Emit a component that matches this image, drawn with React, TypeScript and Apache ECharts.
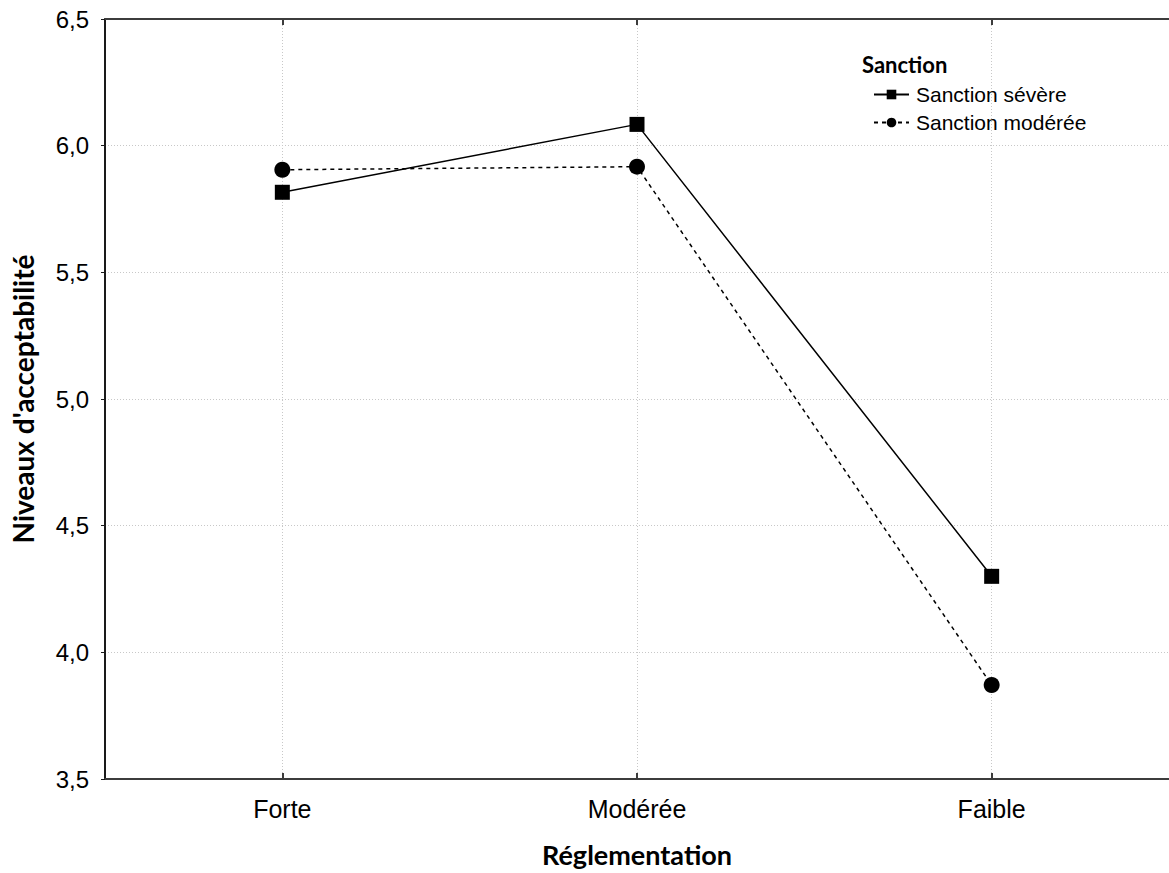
import React, { useEffect, useRef } from "react";
import * as echarts from "echarts";

const categories = ["Forte", "Modérée", "Faible"];
const sanctionSevere = [5.816, 6.084, 4.3];
const sanctionModeree = [5.905, 5.917, 3.871];
const seriesNames = ["Sanction sévère", "Sanction modérée"];
const legendTitle = "Sanction";
const xTitle = "Réglementation";
const yTitle = "Niveaux d'acceptabilité";

export default function App() {
  const ref = useRef<HTMLDivElement>(null);
  useEffect(() => {
    if (!ref.current) return;
    const chart = echarts.init(ref.current, null, { renderer: "svg" });
    const gridLine = { show: true, lineStyle: { color: "#c8c8c8", type: [1, 2] as any, width: 1 } };
    chart.setOption({
      animation: false,
      backgroundColor: "#ffffff",
      grid: { left: 105, top: 19, width: 1071, height: 765, containLabel: false },
      graphic: [
        {
          type: "text",
          left: 862,
          top: 53,
          style: { text: legendTitle, font: "bold 22px Lato", fill: "#000" },
        },
      ],
      legend: {
        orient: "vertical",
        left: 868,
        top: 79,
        itemWidth: 35,
        itemHeight: 12,
        itemGap: 7,
        data: seriesNames,
        textStyle: { fontFamily: "Liberation Sans, Arial", fontSize: 21, color: "#000", padding: [0, 0, 0, 2] },
      },
      xAxis: [
        {
          type: "category",
          data: categories,
          position: "bottom",
          boundaryGap: true,
          name: xTitle,
          nameLocation: "middle",
          nameGap: 62,
          nameTextStyle: { fontFamily: "Lato", fontWeight: "bold", fontSize: 27, color: "#000" },
          axisLine: { show: true, lineStyle: { color: "#3c3c3c", width: 2 } },
          axisTick: { show: true, inside: true, alignWithLabel: true, length: 6, lineStyle: { color: "#3c3c3c", width: 2 } },
          axisLabel: { fontFamily: "Liberation Sans, Arial", fontSize: 25, color: "#000", margin: 17 },
          splitLine: { ...gridLine, alignWithLabel: true } as any,
        },
        {
          type: "category",
          data: categories,
          position: "top",
          boundaryGap: true,
          axisLine: { show: true, lineStyle: { color: "#3c3c3c", width: 2 } },
          axisTick: { show: true, inside: true, alignWithLabel: true, length: 6, lineStyle: { color: "#3c3c3c", width: 2 } },
          axisLabel: { show: false },
          splitLine: { show: false },
        },
      ],
      yAxis: {
        type: "value",
        min: 3.5,
        max: 6.5,
        interval: 0.5,
        name: yTitle,
        nameLocation: "middle",
        nameGap: 68,
        nameTextStyle: { fontFamily: "Lato", fontWeight: "bold", fontSize: 28, color: "#000" },
        axisLine: { show: true, lineStyle: { color: "#1a1a1a", width: 2 } },
        axisTick: { show: true, inside: false, length: 4, lineStyle: { color: "#1a1a1a", width: 1 } },
        axisLabel: {
          fontFamily: "Liberation Sans, Arial",
          fontSize: 24,
          color: "#000",
          margin: 16,
          formatter: (v: number) => v.toFixed(1).replace(".", ","),
        },
        splitLine: gridLine,
      },
      series: [
        {
          name: seriesNames[0],
          type: "line",
          data: sanctionSevere,
          symbol: "rect",
          symbolSize: 15,
          itemStyle: { color: "#000" },
          lineStyle: { color: "#000", width: 1.5, type: "solid" },
          z: 3,
        },
        {
          name: seriesNames[1],
          type: "line",
          data: sanctionModeree,
          symbol: "circle",
          symbolSize: 16,
          itemStyle: { color: "#000" },
          lineStyle: { color: "#000", width: 1.5, type: [4, 4] },
          z: 3,
        },
      ],
    });
    return () => chart.dispose();
  }, []);
  return (
    <div
      ref={ref}
      style={{ position: "fixed", left: 0, top: 0, width: 1169, height: 873, background: "#fff" }}
    />
  );
}
